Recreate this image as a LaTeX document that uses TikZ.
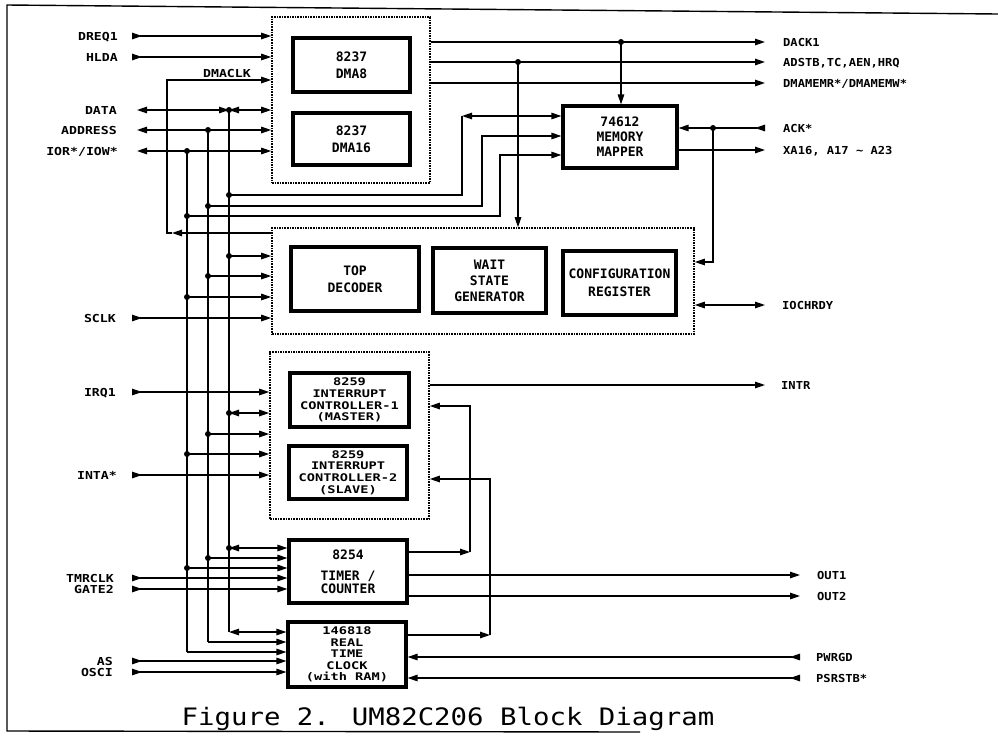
\documentclass[tikz,border=0pt]{standalone}
\usepackage{fontspec}
\usepackage{graphicx}
\usetikzlibrary{arrows.meta}
\newfontfamily\lblfont[FakeStretch=1.2]{DejaVu Sans Mono}
\newfontfamily\rlblfont[FakeStretch=1.1]{DejaVu Sans Mono}
\newfontfamily\blkfont{DejaVu Sans Mono}
\newfontfamily\sblkfont[FakeStretch=1.3]{DejaVu Sans Mono}
\newfontfamily\ttlfont{DejaVu Sans Mono}
\begin{document}
\begin{tikzpicture}[x=1pt,y=-1pt,
  >={Triangle[length=10pt,width=6.5pt]},
  ln/.style={line width=1.3pt},
  blk/.style={draw, line width=3.2pt, align=center, inner sep=0pt,
    font=\blkfont\bfseries\fontsize{13}{#1}\selectfont},
  blk/.default=16,
  sblk/.style={draw, line width=3.2pt, align=center, inner sep=0pt,
    font=\sblkfont\bfseries\fontsize{10.5}{11.6}\selectfont},
  grp/.style={draw, densely dotted, line width=1.6pt, inner sep=0pt},
  lbl/.style={font=\lblfont\bfseries\fontsize{11}{13}\selectfont, inner sep=0pt, text height=8pt, text depth=0pt, anchor=east},
  rlbl/.style={font=\rlblfont\bfseries\fontsize{11}{13}\selectfont, inner sep=0pt, text height=8pt, text depth=0pt, anchor=west},
  dot/.style={circle, fill, inner sep=0pt, minimum size=6pt},
]
\useasboundingbox (0,0) rectangle (998,740);

% frame
\draw[line width=1.4pt] (998,14) -- (7,5) -- (7,731) -- (640,732);

% groups and blocks
\node[grp, minimum width=158pt, minimum height=166pt] (dmag) at (351,100) {};
\node[blk=17, minimum width=117pt, minimum height=54pt] (dma8) at (351.5,65) {8237\\DMA8};
\node[blk=17, minimum width=117pt, minimum height=52pt] (dma16) at (351.5,139) {8237\\DMA16};
\node[blk=15, minimum width=114pt, minimum height=62pt] (mapper) at (620,137) {74612\\MEMORY\\MAPPER};

\node[grp, minimum width=422pt, minimum height=106pt] (iog) at (483,281) {};
\node[blk=17, minimum width=128pt, minimum height=64pt] (topdec) at (355,279) {TOP\\DECODER};
\node[blk=16, minimum width=113pt, minimum height=65pt] (wait) at (489.5,280.5) {WAIT\\STATE\\GENERATOR};
\node[blk=18, minimum width=113pt, minimum height=64pt] (config) at (619.5,283) {CONFIGURATION\\REGISTER};

\node[grp, minimum width=159pt, minimum height=167pt] (intg) at (349.5,435.5) {};
\node[sblk, minimum width=119pt, minimum height=54pt] (master) at (349.5,400) {8259\\INTERRUPT\\CONTROLLER-1\\(MASTER)};
\node[sblk, minimum width=118pt, minimum height=53pt] (slave) at (348,472.5) {8259\\INTERRUPT\\CONTROLLER-2\\(SLAVE)};
\node[blk=13, minimum width=118pt, minimum height=63pt] (timer) at (348,571.5) {8254\\[8pt]TIMER /\\COUNTER};
\node[sblk, minimum width=118pt, minimum height=65pt] (rtc) at (347,654.5) {146818\\REAL\\TIME\\CLOCK\\(with RAM)};

% left labels
\node[lbl] (lDREQ) at (118,36) {DREQ1};
\node[lbl] (lHLDA) at (118,57) {HLDA};
\node[lbl] (lDATA) at (117,110) {DATA};
\node[lbl] (lADDR) at (117,130) {ADDRESS};
\node[lbl] (lIOR) at (118,151) {IOR*/IOW*};
\node[lbl] (lSCLK) at (116,318) {SCLK};
\node[lbl] (lIRQ) at (116,392) {IRQ1};
\node[lbl] (lINTA) at (117,475) {INTA*};
\node[lbl] (lTMR) at (114,578) {TMRCLK};
\node[lbl] (lGATE) at (114,589) {GATE2};
\node[lbl] (lAS) at (113,661) {AS};
\node[lbl] (lOSC) at (113,672) {OSCI};
\node[lbl, anchor=south east] (lDMACLK) at (251,77.5) {DMACLK};

% right labels
\node[rlbl] (lDACK) at (783,42) {DACK1};
\node[rlbl] (lADSTB) at (783,62) {ADSTB,TC,AEN,HRQ};
\node[rlbl] (lDMAM) at (783,83) {DMAMEMR*/DMAMEMW*};
\node[rlbl] (lACK) at (783,128) {ACK*};
\node[rlbl] (lXA) at (783,150) {XA16, A17 \char`\~{} A23};
\node[rlbl] (lIOCH) at (782,305) {IOCHRDY};
\node[rlbl] (lINTR) at (781,385) {INTR};
\node[rlbl] (lOUT1) at (817,575) {OUT1};
\node[rlbl] (lOUT2) at (817,596) {OUT2};
\node[rlbl] (lPWR) at (816,657) {PWRGD};
\node[rlbl] (lPSR) at (816,678) {PSRSTB*};

% free ends
\coordinate (pDREQ) at (132,36);
\coordinate (pHLDA) at (132,57);
\coordinate (pDATA) at (137,110);
\coordinate (pADDR) at (137,130);
\coordinate (pIOR) at (137,151);
\coordinate (pSCLK) at (132,318);
\coordinate (pIRQ) at (132,392);
\coordinate (pINTA) at (132,475);
\coordinate (pTMR) at (132,578);
\coordinate (pGATE) at (132,589);
\coordinate (pAS) at (132,661);
\coordinate (pOSC) at (132,672);
\coordinate (pDACK) at (765,42);
\coordinate (pADSTB) at (765,62);
\coordinate (pDMAM) at (765,83);
\coordinate (pACK) at (765,128);
\coordinate (pXA) at (765,150);
\coordinate (pIOCH) at (765,305);
\coordinate (pINTR) at (765,385);
\coordinate (pOUT1) at (800,575);
\coordinate (pOUT2) at (800,596);
\coordinate (pPWR) at (800,657);
\coordinate (pPSR) at (800,678);

% bus points
\coordinate (dD0) at (229,110);
\coordinate (dA0) at (208,130);
\coordinate (dI0) at (187,151);
\coordinate (dD1) at (229,195);
\coordinate (dA1) at (208,206);
\coordinate (dI1) at (187,216);
\coordinate (dD2) at (229,256);
\coordinate (dA2) at (208,276);
\coordinate (dI2) at (187,297);
\coordinate (dD3) at (229,413);
\coordinate (dA3) at (208,434);
\coordinate (dI3) at (187,454);
\coordinate (dD4) at (229,548);
\coordinate (dA4) at (208,558);
\coordinate (dI4) at (187,568);
\coordinate (bD) at (229,632);
\coordinate (bA) at (208,642);
\coordinate (bI) at (187,652);
\coordinate (cM1) at (462,116);
\coordinate (cM2) at (482,136);
\coordinate (cM3) at (500,155);
\coordinate (cK1) at (172,233);
\coordinate (cK2) at (167,80);
\coordinate (dK) at (621,42);
\coordinate (dS) at (518,62);
\coordinate (dC) at (713,128);
\coordinate (cC) at (713,262);
\coordinate (cT1) at (470,552);
\coordinate (cT2) at (470,406);
\coordinate (cR1) at (490,635);
\coordinate (cR2) at (490,479);

% DMA inputs
\draw[ln,>->] (pDREQ) -- (dmag.west |- pDREQ);
\draw[ln,>->] (pHLDA) -- (dmag.west |- pHLDA);
\draw[ln,<->] (pDATA) -- (dD0);
\draw[ln,<->] (dD0) -- (dmag.west |- dD0);
\draw[ln,<->] (pADDR) -- (dmag.west |- pADDR);
\draw[ln,<->] (pIOR) -- (dmag.west |- pIOR);

% DMACLK
\draw[ln,->] (iog.west |- cK1) -- (cK1);
\draw[ln,->] (cK1) -- (cK2 |- cK1) -- (cK2) -- (dmag.west |- cK2);

% bus verticals
\draw[ln] (dD0) -- (bD);
\draw[ln] (dA0) -- (bA);
\draw[ln] (dI0) -- (bI);

% bus to mapper
\draw[ln] (dD1) -| (cM1);
\draw[ln,<->] (cM1) -- (mapper.west |- cM1);
\draw[ln,->] (dA1) -| (cM2) -- (mapper.west |- cM2);
\draw[ln,->] (dI1) -| (cM3) -- (mapper.west |- cM3);

% bus to I/O group
\draw[ln,->] (dD2) -- (iog.west |- dD2);
\draw[ln,->] (dA2) -- (iog.west |- dA2);
\draw[ln,->] (dI2) -- (iog.west |- dI2);
\draw[ln,>->] (pSCLK) -- (iog.west |- pSCLK);

% interrupt group
\draw[ln,>->] (pIRQ) -- (intg.west |- pIRQ);
\draw[ln,<->] (dD3) -- (intg.west |- dD3);
\draw[ln,->] (dA3) -- (intg.west |- dA3);
\draw[ln,->] (dI3) -- (intg.west |- dI3);
\draw[ln,>->] (pINTA) -- (intg.west |- pINTA);

% timer
\draw[ln,<->] (dD4) -- (timer.west |- dD4);
\draw[ln,->] (dA4) -- (timer.west |- dA4);
\draw[ln,->] (dI4) -- (timer.west |- dI4);
\draw[ln,>->] (pTMR) -- (timer.west |- pTMR);
\draw[ln,>->] (pGATE) -- (timer.west |- pGATE);

% rtc
\draw[ln,<->] (bD) -- (rtc.west |- bD);
\draw[ln,->] (bA) -- (rtc.west |- bA);
\draw[ln,->] (bI) -- (rtc.west |- bI);
\draw[ln,>->] (pAS) -- (rtc.west |- pAS);
\draw[ln,>->] (pOSC) -- (rtc.west |- pOSC);

% DMA outputs
\draw[ln,->] (dmag.east |- pDACK) -- (pDACK);
\draw[ln,->] (dK) -- (mapper.north -| dK);
\draw[ln,->] (dmag.east |- pADSTB) -- (pADSTB);
\draw[ln,->] (dS) -- (iog.north -| dS);
\draw[ln,->] (dmag.east |- pDMAM) -- (pDMAM);

% mapper right
\draw[ln,>->] (pACK) -- (mapper.east |- pACK);
\draw[ln,->] (dC) -- (cC) -- (iog.east |- cC);
\draw[ln,->] (mapper.east |- pXA) -- (pXA);
\draw[ln,<->] (iog.east |- pIOCH) -- (pIOCH);

% interrupt outputs / inputs
\draw[ln,->] (intg.east |- pINTR) -- (pINTR);
\draw[ln,->] (timer.east |- cT1) -- (cT1);
\draw[ln,->] (cT1) -- (cT2) -- (intg.east |- cT2);
\draw[ln,->] (rtc.east |- cR1) -- (cR1);
\draw[ln,->] (cR1) -- (cR2) -- (intg.east |- cR2);

% timer outputs, rtc inputs
\draw[ln,->] (timer.east |- pOUT1) -- (pOUT1);
\draw[ln,->] (timer.east |- pOUT2) -- (pOUT2);
\draw[ln,>->] (pPWR) -- (rtc.east |- pPWR);
\draw[ln,>->] (pPSR) -- (rtc.east |- pPSR);

% junction dots
\foreach \p in {dD0,dA0,dI0,dD1,dA1,dI1,dD2,dA2,dI2,dD3,dA3,dI3,dD4,dA4,dI4,dK,dS,dC}
  \node[dot] at (\p) {};

% title
\node[font=\ttlfont\fontsize{24}{28}\selectfont, inner sep=0pt, anchor=base] (title) at (448,725)
  {\scalebox{1.14}[1]{Figure 2. UM82C206 Block Diagram}};
\end{tikzpicture}
\end{document}
